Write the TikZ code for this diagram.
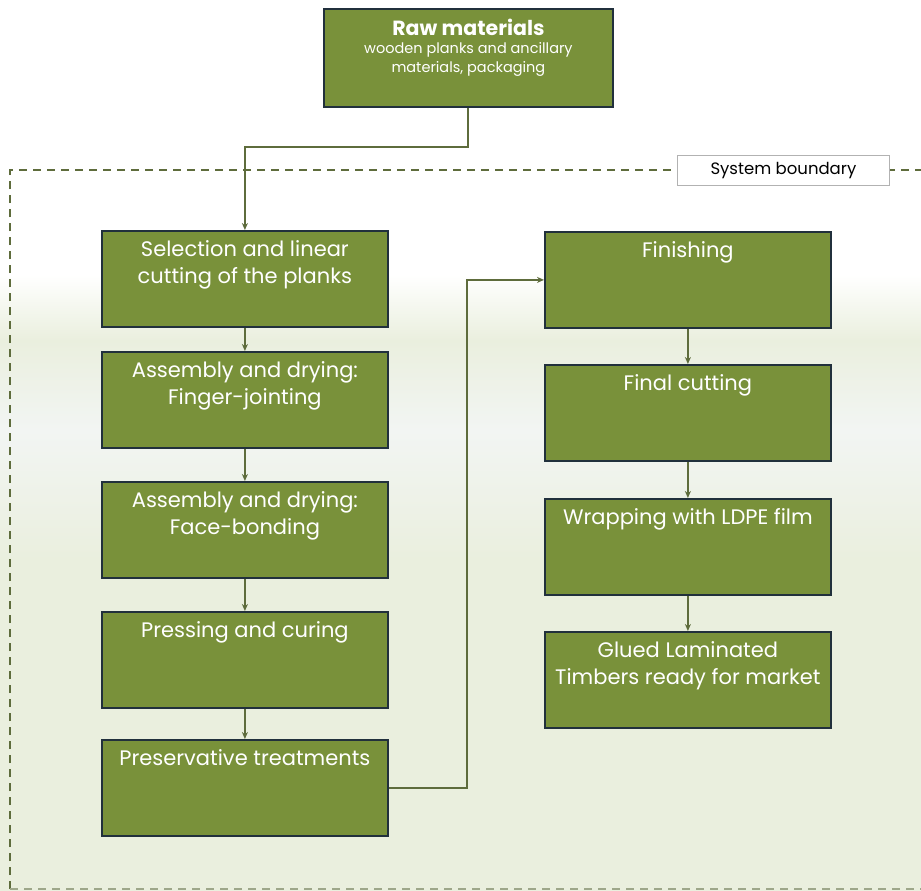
\documentclass[tikz,border=0pt]{standalone}
\usepackage{fontspec}
\setmainfont{Poppins}
\usetikzlibrary{arrows.meta,calc}
\definecolor{boxgreen}{RGB}{121,145,58}
\definecolor{boxedge}{RGB}{33,48,60}
\definecolor{lineolive}{RGB}{94,108,60}
\definecolor{bggreen}{RGB}{234,239,222}
\definecolor{bgpale}{RGB}{242,245,243}
\newcommand{\stepText}[1]{\parbox[c][96pt][t]{286pt}{\centering\vspace*{10pt}\fontsize{21}{27}\selectfont #1}}
\tikzset{
  stepbox/.style={draw=boxedge, line width=1.8pt, fill=boxgreen, text=white, inner sep=0pt, anchor=north west},
  flow/.style={draw=lineolive, line width=2pt, -{Stealth[length=7pt,width=6pt]}},
  boundary/.style={draw=lineolive, line width=2pt, dash pattern=on 8pt off 6pt},
}
\begin{document}
\begin{tikzpicture}[x=1pt,y=-1pt]
\useasboundingbox (0,0) rectangle (921,891);
% background
\fill[white] (0,0) rectangle (921,891);
\shade[top color=white, bottom color=bggreen] (0,275) rectangle (921,340);
\shade[top color=bggreen, bottom color=bgpale] (0,340) rectangle (921,430);
\shade[top color=bgpale, bottom color=bggreen] (0,430) rectangle (921,560);
\fill[bggreen] (0,560) rectangle (921,891);
% system boundary
\draw[boundary] (10,889) -- (10,170) -- (930,170);
\draw[boundary, draw=lineolive!60] (10,889) -- (930,889);
\node[draw=black!30, fill=white, line width=0.8pt, minimum width=212pt, minimum height=30pt, inner sep=0pt, anchor=north west, font=\fontsize{16.5}{18}\selectfont] (sysb) at (677,155) {System boundary};
% raw materials
\node[stepbox] (raw) at (323,8) {\parbox[c][98pt][t]{289pt}{\centering\vspace*{10pt}{\fontsize{20.5}{24}\selectfont\bfseries Raw materials}\\[-1pt]\fontsize{14.5}{19}\selectfont wooden planks and ancillary\\materials, packaging}};
% left column
\node[stepbox] (sel) at (101,230) {\stepText{Selection and linear\\cutting of the planks}};
\node[stepbox] (fj) at (101,351) {\stepText{Assembly and drying:\\Finger-jointing}};
\node[stepbox] (fb) at (101,481) {\stepText{Assembly and drying:\\Face-bonding}};
\node[stepbox] (pc) at (101,611) {\stepText{Pressing and curing}};
\node[stepbox] (pt) at (101,739) {\stepText{Preservative treatments}};
% right column
\node[stepbox] (fin) at (544,231) {\stepText{Finishing}};
\node[stepbox] (fc) at (544,364) {\stepText{Final cutting}};
\node[stepbox] (wr) at (544,498) {\stepText{Wrapping with LDPE film}};
\node[stepbox] (gl) at (544,631) {\stepText{Glued Laminated\\Timbers ready for market}};
% connectors
\draw[flow] (raw.south) -- ++(0,39) -| (sel.north);
\draw[flow] (sel) -- (fj);
\draw[flow] (fj) -- (fb);
\draw[flow] (fb) -- (pc);
\draw[flow] (pc) -- (pt);
\draw[flow] (pt.east) -- ++(78,0) |- (fin.west);
\draw[flow] (fin) -- (fc);
\draw[flow] (fc) -- (wr);
\draw[flow] (wr) -- (gl);
\end{tikzpicture}
\end{document}
